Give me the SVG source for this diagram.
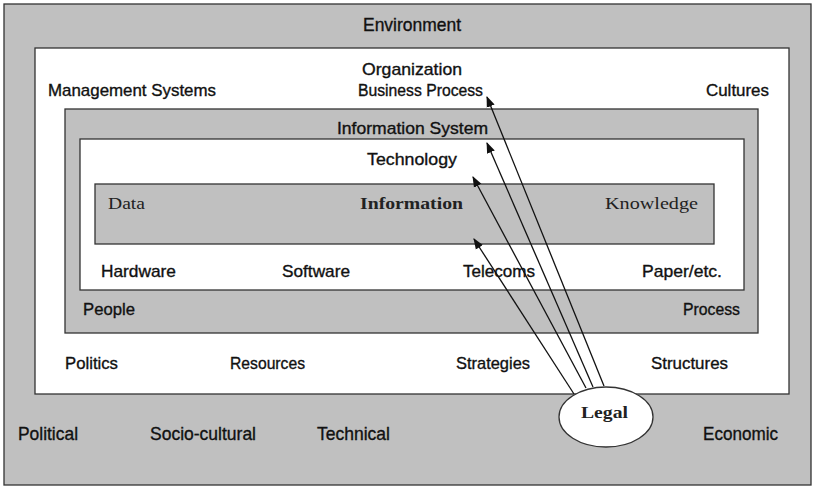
<svg xmlns="http://www.w3.org/2000/svg" width="815" height="488" viewBox="0 0 815 488">
<defs>
<marker id="ah" viewBox="0 0 10 10" refX="9" refY="5" markerWidth="11" markerHeight="11" markerUnits="userSpaceOnUse" orient="auto">
<path d="M0,1.2 L10,5 L0,8.8 z" fill="#111"/>
</marker>
</defs>
<style>
.box{stroke:#333;stroke-width:1.3}
.g{fill:#c0c0c0}
.w{fill:#fff}
.t{font-family:"Liberation Sans","DejaVu Sans",sans-serif;font-size:17px;fill:#111;stroke:#111;stroke-width:0.35}
.L{font-size:18.5px}
.s{font-family:"Liberation Serif","DejaVu Serif",serif;font-size:17.5px;fill:#222}
.b{font-weight:bold}
.c{text-anchor:middle}
.ln{stroke:#111;stroke-width:1.3;fill:none;marker-end:url(#ah)}
</style>
<g id="environment">
<rect class="box g" x="4" y="4" width="807" height="481"/>
<text class="t L" x="363" y="31" textLength="98" lengthAdjust="spacingAndGlyphs">Environment</text>
<text class="t L" x="18" y="440" textLength="60" lengthAdjust="spacingAndGlyphs">Political</text>
<text class="t L" x="150" y="440" textLength="106" lengthAdjust="spacingAndGlyphs">Socio-cultural</text>
<text class="t L" x="317" y="440" textLength="73" lengthAdjust="spacingAndGlyphs">Technical</text>
<text class="t L" x="703" y="440" textLength="75" lengthAdjust="spacingAndGlyphs">Economic</text>
</g>
<g id="organization">
<rect class="box w" x="35" y="48" width="754" height="346"/>
<text class="t" x="362" y="75" textLength="100" lengthAdjust="spacingAndGlyphs">Organization</text>
<text class="t" x="358" y="96" textLength="125" lengthAdjust="spacingAndGlyphs">Business Process</text>
<text class="t" x="48" y="96" textLength="168" lengthAdjust="spacingAndGlyphs">Management Systems</text>
<text class="t" x="706" y="96" textLength="63" lengthAdjust="spacingAndGlyphs">Cultures</text>
<text class="t" x="65" y="369" textLength="53" lengthAdjust="spacingAndGlyphs">Politics</text>
<text class="t" x="230" y="369" textLength="75" lengthAdjust="spacingAndGlyphs">Resources</text>
<text class="t" x="456" y="369" textLength="74" lengthAdjust="spacingAndGlyphs">Strategies</text>
<text class="t" x="651" y="369" textLength="77" lengthAdjust="spacingAndGlyphs">Structures</text>
</g>
<g id="information-system">
<rect class="box g" x="65" y="109" width="693" height="224"/>
<text class="t" x="337" y="134" textLength="151" lengthAdjust="spacingAndGlyphs">Information System</text>
<text class="t" x="83" y="315" textLength="52" lengthAdjust="spacingAndGlyphs">People</text>
<text class="t" x="683" y="315" textLength="57" lengthAdjust="spacingAndGlyphs">Process</text>
</g>
<g id="technology">
<rect class="box w" x="80" y="139" width="664" height="151"/>
<text class="t" x="367" y="165" textLength="90" lengthAdjust="spacingAndGlyphs">Technology</text>
<text class="t" x="101" y="277" textLength="75" lengthAdjust="spacingAndGlyphs">Hardware</text>
<text class="t" x="282" y="277" textLength="68" lengthAdjust="spacingAndGlyphs">Software</text>
<text class="t" x="463" y="277" textLength="72" lengthAdjust="spacingAndGlyphs">Telecoms</text>
<text class="t" x="642" y="277" textLength="80" lengthAdjust="spacingAndGlyphs">Paper/etc.</text>
</g>
<g id="information">
<rect class="box g" x="95" y="184" width="619" height="60"/>
<text class="s" x="108" y="209" textLength="37" lengthAdjust="spacingAndGlyphs">Data</text>
<text class="s b" x="360" y="209" textLength="103" lengthAdjust="spacingAndGlyphs">Information</text>
<text class="s" x="605" y="209" textLength="93" lengthAdjust="spacingAndGlyphs">Knowledge</text>
</g>
<g id="connectors">
<line class="ln" x1="604" y1="386" x2="487" y2="97"/>
<line class="ln" x1="593" y1="387" x2="487" y2="143"/>
<line class="ln" x1="586" y1="388" x2="473" y2="177"/>
<line class="ln" x1="574" y1="394" x2="474" y2="239"/>
</g>
<g id="legal">
<ellipse cx="606" cy="417" rx="47" ry="30" fill="#fff" stroke="#333" stroke-width="1.3"/>
<text class="s b" x="581" y="418" font-size="20" textLength="47" lengthAdjust="spacingAndGlyphs">Legal</text>
</g>
</svg>
